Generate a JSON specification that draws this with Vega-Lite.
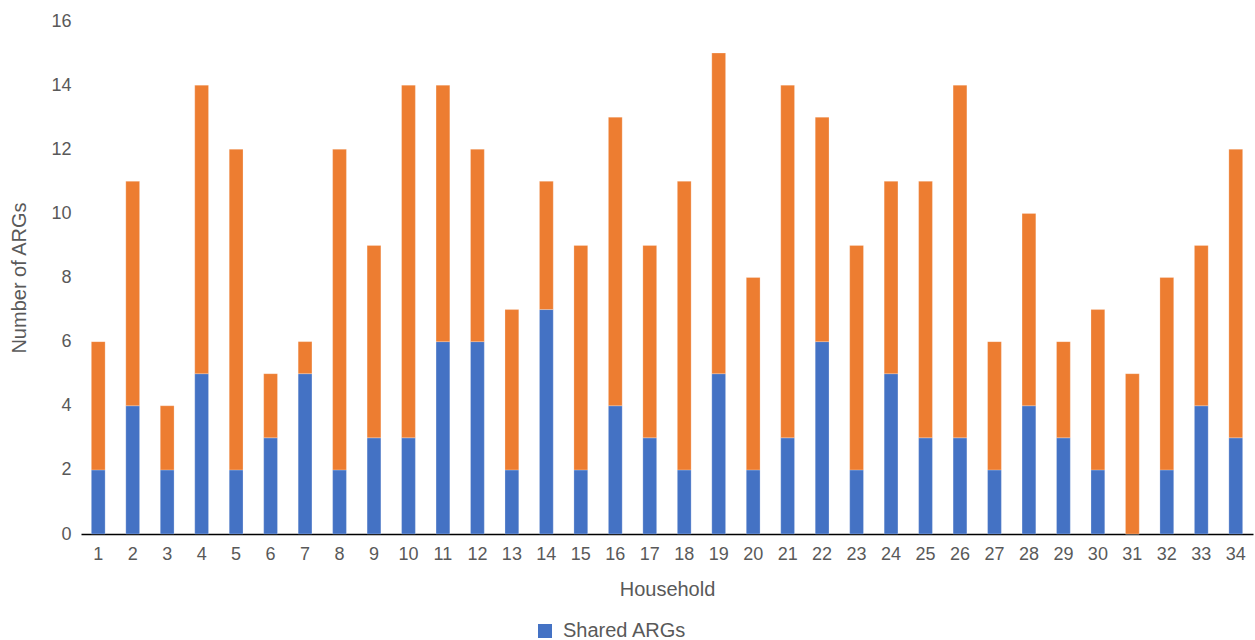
{
  "$schema": "https://vega.github.io/schema/vega-lite/v6.json",
  "width": 1172,
  "height": 513,
  "autosize": {"type": "none"},
  "padding": {"left": 81, "top": 21, "right": 2, "bottom": 106},
  "background": "white",
  "config": {
    "view": {"stroke": null},
    "font": "Liberation Sans",
    "axis": {"labelFont": "Liberation Sans", "titleFont": "Liberation Sans", "labelColor": "#595959", "titleColor": "#595959", "labelFontSize": 18, "titleFontSize": 20, "titleFontWeight": "normal", "grid": false, "ticks": false},
    "legend": {"labelFont": "Liberation Sans", "labelFontSize": 20, "labelColor": "#595959"}
  },
  "data": {
    "values": [
      {"household": 1, "Shared ARGs": 2, "Unique ARGs": 4},
      {"household": 2, "Shared ARGs": 4, "Unique ARGs": 7},
      {"household": 3, "Shared ARGs": 2, "Unique ARGs": 2},
      {"household": 4, "Shared ARGs": 5, "Unique ARGs": 9},
      {"household": 5, "Shared ARGs": 2, "Unique ARGs": 10},
      {"household": 6, "Shared ARGs": 3, "Unique ARGs": 2},
      {"household": 7, "Shared ARGs": 5, "Unique ARGs": 1},
      {"household": 8, "Shared ARGs": 2, "Unique ARGs": 10},
      {"household": 9, "Shared ARGs": 3, "Unique ARGs": 6},
      {"household": 10, "Shared ARGs": 3, "Unique ARGs": 11},
      {"household": 11, "Shared ARGs": 6, "Unique ARGs": 8},
      {"household": 12, "Shared ARGs": 6, "Unique ARGs": 6},
      {"household": 13, "Shared ARGs": 2, "Unique ARGs": 5},
      {"household": 14, "Shared ARGs": 7, "Unique ARGs": 4},
      {"household": 15, "Shared ARGs": 2, "Unique ARGs": 7},
      {"household": 16, "Shared ARGs": 4, "Unique ARGs": 9},
      {"household": 17, "Shared ARGs": 3, "Unique ARGs": 6},
      {"household": 18, "Shared ARGs": 2, "Unique ARGs": 9},
      {"household": 19, "Shared ARGs": 5, "Unique ARGs": 10},
      {"household": 20, "Shared ARGs": 2, "Unique ARGs": 6},
      {"household": 21, "Shared ARGs": 3, "Unique ARGs": 11},
      {"household": 22, "Shared ARGs": 6, "Unique ARGs": 7},
      {"household": 23, "Shared ARGs": 2, "Unique ARGs": 7},
      {"household": 24, "Shared ARGs": 5, "Unique ARGs": 6},
      {"household": 25, "Shared ARGs": 3, "Unique ARGs": 8},
      {"household": 26, "Shared ARGs": 3, "Unique ARGs": 11},
      {"household": 27, "Shared ARGs": 2, "Unique ARGs": 4},
      {"household": 28, "Shared ARGs": 4, "Unique ARGs": 6},
      {"household": 29, "Shared ARGs": 3, "Unique ARGs": 3},
      {"household": 30, "Shared ARGs": 2, "Unique ARGs": 5},
      {"household": 31, "Shared ARGs": 0, "Unique ARGs": 5},
      {"household": 32, "Shared ARGs": 2, "Unique ARGs": 6},
      {"household": 33, "Shared ARGs": 4, "Unique ARGs": 5},
      {"household": 34, "Shared ARGs": 3, "Unique ARGs": 9}
    ]
  },
  "transform": [
    {"fold": ["Shared ARGs", "Unique ARGs"], "as": ["series", "count"]}
  ],
  "mark": {"type": "bar", "stroke": "white", "strokeWidth": 0.4, "strokeOpacity": 0.6},
  "encoding": {
    "x": {
      "field": "household",
      "type": "ordinal",
      "title": "Household",
      "scale": {"paddingInner": 0.6, "paddingOuter": 0.3},
      "axis": {"labelAngle": 0, "labelPadding": 11, "titlePadding": 16, "domainColor": "#000000", "domainWidth": 1.5}
    },
    "y": {
      "field": "count",
      "type": "quantitative",
      "stack": "zero",
      "title": "Number of ARGs",
      "scale": {"domain": [0, 16], "nice": false},
      "axis": {"values": [0, 2, 4, 6, 8, 10, 12, 14, 16], "domain": false, "labelPadding": 10, "titlePadding": 21}
    },
    "color": {
      "field": "series",
      "type": "nominal",
      "scale": {"domain": ["Shared ARGs", "Unique ARGs"], "range": ["#4472C4", "#ED7D31"]},
      "legend": {"values": ["Shared ARGs"], "title": null, "orient": "none", "legendX": 454, "legendY": 600, "symbolType": "square", "symbolSize": 196, "symbolStrokeWidth": 0, "labelOffset": 8}
    },
    "order": {"field": "series", "sort": "ascending"}
  }
}
